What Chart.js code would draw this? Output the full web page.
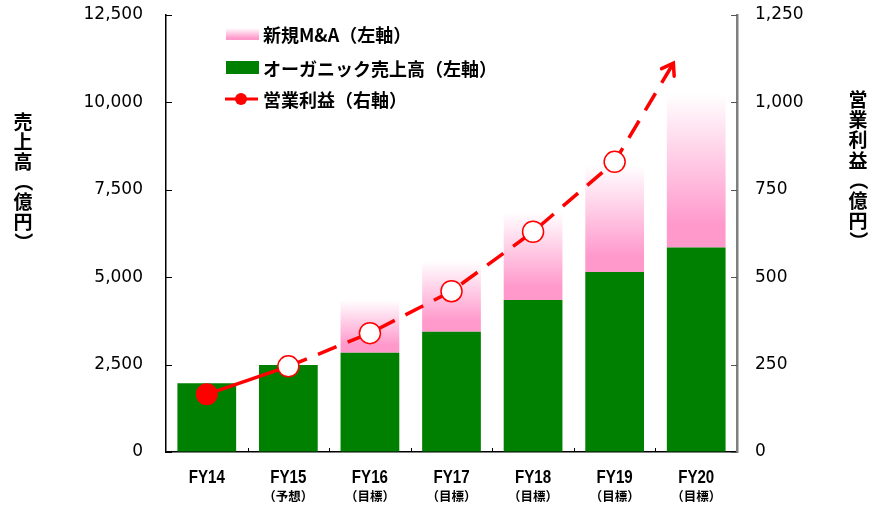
<!DOCTYPE html>
<html><head><meta charset="utf-8">
<script src="https://cdn.jsdelivr.net/npm/chart.js@4.4.1/dist/chart.umd.min.js"></script>
<style>html,body{margin:0;padding:0;background:#fff;overflow:hidden}#wrap{position:relative;width:872px;height:506px}</style>
</head><body><div id="wrap"><canvas id="c" width="872" height="506"></canvas></div>
<script>
const categories = ["FY14", "FY15", "FY16", "FY17", "FY18", "FY19", "FY20"];
const subLabels = ["", "（予想）", "（目標）", "（目標）", "（目標）", "（目標）", "（目標）"];
const organicSales = [1970, 2490, 2840, 3440, 4350, 5150, 5850];
const mnaSales = [null, null, 1510, 2020, 2520, 3050, 4400];
const profitX = [0, 1, 2, 3, 4, 5, 5.72];
const operatingProfit = [165, 245, 340, 460, 630, 830, 1112];
const legendLabels = ["新規M&A（左軸）", "オーガニック売上高（左軸）", "営業利益（右軸）"];
const leftTitle = "売上高（億円）";
const rightTitle = "営業利益（億円）";

const PINK = '#FF99CC', GREEN = '#008000', RED = '#FF0000';
const CJK = '"Noto Sans CJK JP", sans-serif';

function pinkGradient(ctx, bottom, top) {
  const g = ctx.createLinearGradient(0, bottom, 0, top);
  g.addColorStop(0, PINK);
  g.addColorStop(0.15, PINK);
  g.addColorStop(1, '#FFFFFF');
  return g;
}

const decor = {
  id: 'decor',
  afterDatasetsDraw(chart) {
    const ctx = chart.ctx;
    const ca = chart.chartArea;
    const y = chart.scales.y, y1 = chart.scales.y1;
    ctx.save();
    ctx.lineWidth = 1;
    ctx.strokeStyle = '#000';
    y.ticks.forEach(t => {
      const p = Math.round(y.getPixelForValue(t.value)) + 0.5;
      ctx.beginPath(); ctx.moveTo(ca.left, p); ctx.lineTo(ca.left + 6, p); ctx.stroke();
    });
    ctx.strokeStyle = '#555';
    y1.ticks.forEach(t => {
      const p = Math.round(y1.getPixelForValue(t.value)) + 0.5;
      ctx.beginPath(); ctx.moveTo(ca.right, p); ctx.lineTo(ca.right - 6, p); ctx.stroke();
    });
    ctx.strokeStyle = '#000';
    const w = (ca.right - ca.left) / categories.length;
    for (let i = 1; i < categories.length; i++) {
      const p = Math.round(ca.left + i * w) + 0.5;
      ctx.beginPath(); ctx.moveTo(p, ca.bottom); ctx.lineTo(p, ca.bottom - 4); ctx.stroke();
    }
    const meta = chart.getDatasetMeta(2);
    const pts = meta.data;
    const a = pts[pts.length - 1], b = pts[pts.length - 2];
    const ang = Math.atan2(a.y - b.y, a.x - b.x);
    ctx.strokeStyle = RED; ctx.lineWidth = 3.5; ctx.lineCap = 'round'; ctx.lineJoin = 'miter';
    ctx.beginPath();
    const L = 13, spread = 0.6;
    ctx.moveTo(a.x - L * Math.cos(ang - spread), a.y - L * Math.sin(ang - spread));
    ctx.lineTo(a.x, a.y);
    ctx.lineTo(a.x - L * Math.cos(ang + spread), a.y - L * Math.sin(ang + spread));
    ctx.stroke();
    ctx.restore();
  },
  afterDraw(chart) {
    const ctx = chart.ctx;
    const x = chart.scales.x;
    ctx.save();
    ctx.fillStyle = '#000';
    ctx.textAlign = 'center'; ctx.textBaseline = 'middle';
    categories.forEach((c, i) => {
      const px = x.getPixelForValue(i);
      ctx.save();
      ctx.translate(px, 478);
      ctx.scale(0.84, 1);
      ctx.font = 'bold 18px "Liberation Sans", Arial, sans-serif';
      ctx.fillText(c, 0, 0);
      ctx.restore();
      if (subLabels[i]) {
        ctx.font = 'bold 12.5px ' + CJK;
        ctx.fillText(subLabels[i], px, 496);
      }
    });
    function vtext(str, cx, cy0, step) {
      ctx.font = 'bold 19px ' + CJK;
      [...str].forEach((ch, k) => {
        const cy = cy0 + k * step;
        if (ch === '（' || ch === '）') {
          ctx.save(); ctx.translate(cx, cy); ctx.rotate(Math.PI / 2);
          ctx.fillText(ch, 0, 0); ctx.restore();
        } else ctx.fillText(ch, cx, cy);
      });
    }
    vtext(leftTitle, 23, 122, 20);
    vtext(rightTitle, 858, 100, 20.1);
    const lx = 226, sw = 33;
    const rows = [34, 68, 99];
    ctx.fillStyle = pinkGradient(ctx, rows[0] + 6, rows[0] - 6);
    ctx.fillRect(lx, rows[0] - 6, sw, 12);
    ctx.fillStyle = GREEN;
    ctx.fillRect(lx, rows[1] - 7, sw, 13);
    ctx.strokeStyle = RED; ctx.lineWidth = 3;
    ctx.beginPath(); ctx.moveTo(lx - 1, rows[2]); ctx.lineTo(lx + sw - 1, rows[2]); ctx.stroke();
    ctx.fillStyle = RED;
    ctx.beginPath(); ctx.arc(lx + 15, rows[2], 6, 0, Math.PI * 2); ctx.fill();
    ctx.fillStyle = '#000';
    ctx.textAlign = 'left';
    ctx.font = 'bold 18px ' + CJK;
    legendLabels.forEach((t, i) => ctx.fillText(t, 263, rows[i] + 1));
    ctx.restore();
  }
};

const tickFont = { family: '"DejaVu Sans", sans-serif', size: 17 };
const fmt = v => Number(v).toLocaleString('en-US');
const noPad = s => { s.paddingTop = 0; s.paddingBottom = 0; s.paddingLeft = 0; s.paddingRight = 0; };

new Chart(document.getElementById('c'), {
  type: 'bar',
  data: {
    labels: categories,
    datasets: [
      { type: 'bar', label: legendLabels[1], data: organicSales, backgroundColor: GREEN,
        stack: 's', order: 2, grouped: false, barPercentage: 0.72, categoryPercentage: 1, xAxisID: 'x', yAxisID: 'y' },
      { type: 'bar', label: legendLabels[0], data: mnaSales, stack: 's', order: 2, grouped: false,
        barPercentage: 0.72, categoryPercentage: 1, xAxisID: 'x', yAxisID: 'y',
        backgroundColor: (c) => {
          const chart = c.chart;
          if (!chart.chartArea || c.dataIndex === undefined || mnaSales[c.dataIndex] == null) return PINK;
          const ys = chart.scales.y;
          const i = c.dataIndex;
          const b = ys.getPixelForValue(organicSales[i]);
          const t = ys.getPixelForValue(organicSales[i] + mnaSales[i]);
          return pinkGradient(chart.ctx, b, t);
        } },
      { type: 'line', label: legendLabels[2], xAxisID: 'x2', yAxisID: 'y1', order: 0,
        data: profitX.map((px, i) => ({ x: px, y: operatingProfit[i] })),
        borderColor: RED, borderWidth: 3.5, tension: 0, fill: false,
        segment: { borderDash: s => s.p0DataIndex >= 1 ? [20, 12] : undefined },
        pointRadius: operatingProfit.map((v, i) => i === 0 ? 11 : (i === operatingProfit.length - 1 ? 0 : 10.5)),
        pointBackgroundColor: operatingProfit.map((v, i) => i === 0 ? RED : '#FFFFFF'),
        pointBorderColor: RED,
        pointBorderWidth: operatingProfit.map((v, i) => i === 0 ? 0 : 1.5),
        clip: false }
    ]
  },
  options: {
    responsive: false, animation: false, devicePixelRatio: 1,
    layout: { padding: { top: 15, left: 0, right: 0, bottom: 0 } },
    plugins: { legend: { display: false }, tooltip: { enabled: false } },
    scales: {
      x: { type: 'category', stacked: true, offset: true,
        grid: { drawOnChartArea: false, drawTicks: false },
        border: { display: true, color: '#000', width: 1.5 },
        ticks: { display: false },
        afterFit(s) { s.height = 54; noPad(s); } },
      x2: { type: 'linear', position: 'bottom', display: true, offset: false, min: -0.5, max: 6.5,
        grid: { display: false, drawTicks: false, offset: false }, border: { display: false },
        ticks: { display: false },
        afterFit(s) { s.height = 0; noPad(s); } },
      y: { position: 'left', stacked: true, min: 0, max: 12500,
        grid: { drawOnChartArea: false, drawTicks: false },
        border: { display: true, color: '#000', width: 1.5 },
        ticks: { stepSize: 2500, padding: 23, color: '#000', font: tickFont, callback: fmt },
        afterFit(s) { s.width = 166; noPad(s); } },
      y1: { position: 'right', min: 0, max: 1250,
        grid: { drawOnChartArea: false, drawTicks: false },
        border: { display: true, color: '#7f7f7f', width: 2.5 },
        ticks: { stepSize: 250, padding: 18, color: '#000', font: tickFont, callback: fmt },
        afterFit(s) { s.width = 135; noPad(s); } }
    }
  },
  plugins: [decor]
});
</script>
</body></html>
